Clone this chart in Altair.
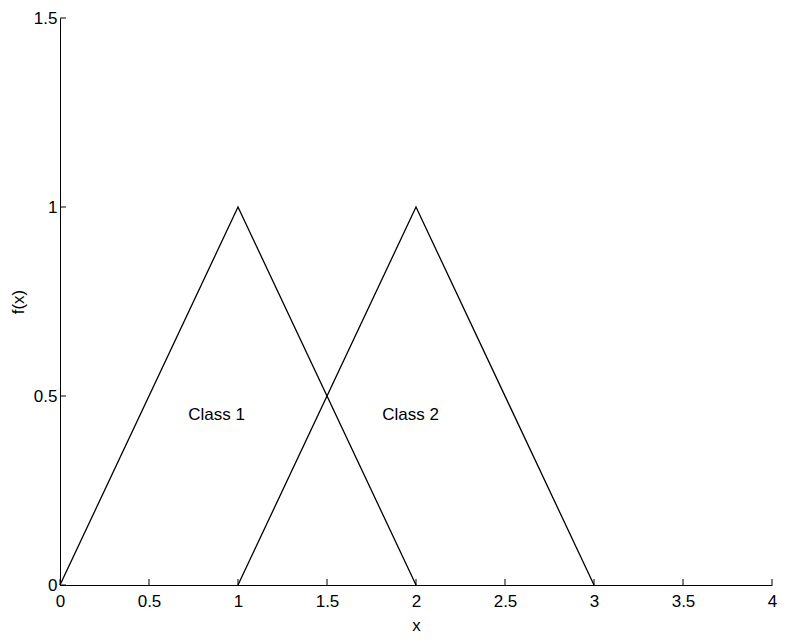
import altair as alt
import pandas as pd

class1_x = [0, 1, 2]
class1_y = [0, 1, 0]
class2_x = [1, 2, 3]
class2_y = [0, 1, 0]
x_ticks = [0, 0.5, 1, 1.5, 2, 2.5, 3, 3.5, 4]
y_ticks = [0, 0.5, 1, 1.5]
label_text = ["Class 1", "Class 2"]
label_x = [0.88, 1.97]
label_y = [0.45, 0.45]

lines = pd.DataFrame({
    "x": class1_x + class2_x,
    "y": class1_y + class2_y,
    "cls": ["c1"] * 3 + ["c2"] * 3,
})
labels = pd.DataFrame({"x": label_x, "y": label_y, "t": label_text})
xt = pd.DataFrame({"v": x_ticks})
yt = pd.DataFrame({"v": y_ticks})

W, H = 712, 567
xs = alt.Scale(domain=[0, 4], nice=False)
ys = alt.Scale(domain=[0, 1.5], nice=False)

xaxis = alt.Axis(values=x_ticks, tickSize=0, grid=False, labelPadding=8,
                 labelFontSize=17, titleFontSize=17, titleFontWeight="normal",
                 titlePadding=8, labelFlush=False, format="~g")
yaxis = alt.Axis(values=y_ticks, tickSize=0, grid=False, labelPadding=3,
                 labelFontSize=17, titleFontSize=17, titleFontWeight="normal",
                 titlePadding=6, labelFlush=False, format="~g")

line_layer = alt.Chart(lines).mark_line(color="black", strokeWidth=1.3).encode(
    x=alt.X("x:Q", scale=xs, axis=xaxis, title="x"),
    y=alt.Y("y:Q", scale=ys, axis=yaxis, title="f(x)"),
    detail="cls:N",
)

text_layer = alt.Chart(labels).mark_text(fontSize=17, color="black").encode(
    x=alt.X("x:Q", scale=xs),
    y=alt.Y("y:Q", scale=ys),
    text="t:N",
)

xtick_layer = alt.Chart(xt).mark_rule(color="black", strokeWidth=1).encode(
    x=alt.X("v:Q", scale=xs),
    y=alt.value(H),
    y2=alt.value(H - 6),
)

ytick_layer = alt.Chart(yt).mark_rule(color="black", strokeWidth=1).encode(
    y=alt.Y("v:Q", scale=ys),
    x=alt.value(0),
    x2=alt.value(6),
)

chart = alt.layer(line_layer, text_layer, xtick_layer, ytick_layer).properties(
    width=W, height=H,
    autosize=alt.AutoSizeParams(type="none"),
    padding={"left": 52, "top": 10, "right": 6, "bottom": 51},
).configure_view(stroke=None).configure_axis(
    domainColor="black", labelColor="black", titleColor="black",
    labelFont="Liberation Sans", titleFont="Liberation Sans",
).configure_text(font="Liberation Sans")

chart.save("out.html", embed_options={"renderer": "svg", "actions": False})
